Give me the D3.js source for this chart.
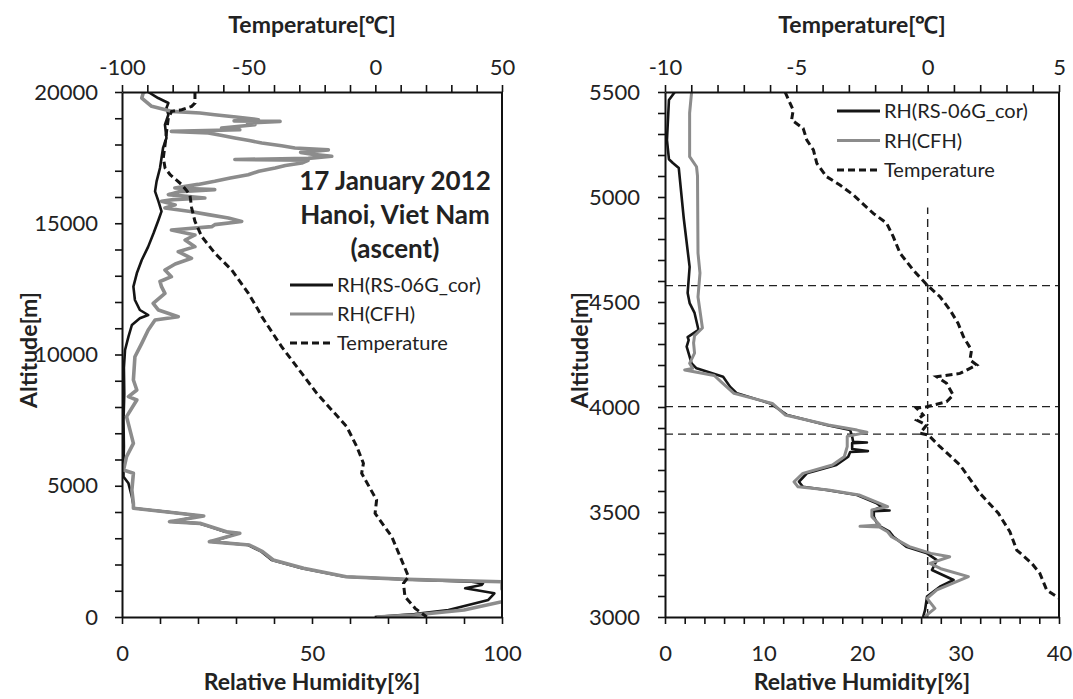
<!DOCTYPE html>
<html>
<head>
<meta charset="utf-8">
<script src="https://cdnjs.cloudflare.com/ajax/libs/d3/7.8.5/d3.min.js"></script>
<style>
body { margin: 0; background: #fff; }
svg { font-family: Lato, "Open Sans", sans-serif; }
</style>
</head>
<body>
<svg width="1073" height="699"></svg>
<script>
/***************************************************************************************************
two sounding profiles: full ascent (left) and a close up of 3000-5500 m (right)
rows are [altitude m, value]
***************************************************************************************************/

// ---- left panel: 0-20000 m
var leftRhRS = [
	[20000, 6.9], [19770, 9.5], [19580, 12.2], [19390, 11.7], [19135, 12.2], [18755, 11.3], [18248, 11.7],
	[17867, 10.8], [17486, 10.4], [17105, 10.0], [16597, 9.1], [16216, 8.7], [15835, 9.6], [15455, 10.4],
	[15124, 9.6], [14617, 8.3], [14109, 6.9], [13600, 5.2], [13093, 3.9], [12585, 3.0], [12076, 3.4],
	[11695, 4.7], [11505, 6.9], [11378, 4.7], [11124, 2.6], [10680, 1.7], [10171, 0.8], [9500, 0.5],
	[8500, 0.6], [7500, 0.4], [6500, 0.5], [5800, 0.4], [5346, 0.4], [5092, 1.7], [4584, 2.6], [4267, 3.0],
	[4140, 3.2], [4013, 11.3], [3848, 21.0], [3800, 19.0], [3632, 13.1], [3568, 20.1], [3450, 23.0],
	[3250, 27.1], [3187, 30.6], [2870, 23.6], [2743, 33.2], [2489, 36.7], [2171, 39.4], [1854, 47.3],
	[1535, 58.7], [1434, 74.4], [1345, 92.0], [1282, 95.0], [1219, 94.6], [1092, 90.3], [902, 98.0],
	[648, 96.4], [267, 85.9], [114, 77.0], [0, 66.5]
];
var leftRhCFH = [
	[20000, 6.0], [19960, 5.6], [19770, 5.2], [19453, 7.8], [19263, 13.0], [19200, 20.5], [19135, 24.4],
	[19050, 30.0], [18945, 35.9], [18900, 29.5], [18880, 41.6], [18820, 33.0], [18755, 35.0], [18628, 26.2],
	[18560, 31.0], [18500, 13.0], [18438, 22.7], [18350, 26.0], [18248, 29.7], [18150, 33.5], [18057, 36.8],
	[17950, 42.0], [17867, 45.5], [17794, 54.3], [17700, 47.0], [17613, 50.8], [17550, 55.2], [17470, 49.0],
	[17430, 29.7], [17400, 49.0], [17296, 47.3], [17200, 43.0], [17105, 40.3], [16980, 36.0], [16850, 33.2],
	[16720, 28.5], [16597, 24.4], [16480, 20.0], [16343, 13.9], [16280, 24.4], [16200, 15.0], [16090, 12.2],
	[15962, 21.8], [15900, 13.5], [15835, 10.4], [15700, 14.0], [15581, 11.3], [15450, 18.0], [15328, 22.7],
	[15200, 28.0], [15070, 31.5], [14947, 24.4], [14870, 23.6], [14743, 13.0], [14552, 19.2], [14362, 16.6],
	[14109, 19.2], [13918, 14.8], [13665, 18.3], [13450, 14.0], [13219, 11.3], [12966, 13.0], [12780, 10.0],
	[12585, 10.4], [12330, 11.3], [11950, 8.2], [11695, 9.6], [11440, 14.8], [11314, 8.7], [10933, 6.9],
	[10425, 5.2], [9916, 3.4], [9029, 3.0], [8648, 3.9], [8395, 1.7], [8267, 3.9], [7632, 1.2], [6616, 3.0],
	[6108, 1.2], [5600, 0.4], [5474, 3.0], [4838, 2.6], [4330, 3.0], [4140, 3.0], [3848, 21.5], [3632, 12.5],
	[3568, 20.5], [3250, 27.5], [3187, 31.0], [2870, 23.0], [2743, 33.5], [2489, 37.0], [2171, 39.8],
	[1854, 47.8], [1535, 59.0], [1434, 75.0], [1345, 100.0], [1060, 100.0], [900, 104.0], [584, 100.0],
	[267, 90.0], [76, 77.0], [0, 67.0]
];
var leftTemp = [
	[20000, -71.2], [19580, -71.2], [19453, -72.5], [19326, -76.4], [19263, -80.4], [19010, -81.7],
	[18500, -82.4], [17995, -83.0], [17486, -83.7], [17105, -83.0], [16850, -81.0], [16470, -76.4],
	[16090, -73.2], [15581, -72.5], [15070, -71.2], [14489, -68.5], [13855, -63.3], [13219, -56.7],
	[12330, -50.1], [11695, -46.2], [11440, -44.8], [10298, -37.0], [9790, -33.0], [8520, -23.1],
	[7250, -11.3], [6489, -7.3], [5855, -4.7], [5474, -5.4], [4457, 0.5], [3950, -0.1], [3060, 6.5],
	[1535, 13.1], [1282, 11.1], [775, 11.7], [330, 15.7], [0, 20.3]
];
var leftRhLabels = [0, 50, 100];
var leftTempLabels = [-100, -50, 0, 50];
var leftAltLabels = [0, 5000, 10000, 15000, 20000];
var leftNote = ['17 January 2012', 'Hanoi, Viet Nam', '(ascent)'];

// ---- right panel: 3000-5500 m
var rightRhRS = [
	[5500, 1.0], [5462, 0.4], [5271, 0.2], [5180, 0.4], [5162, 0.8], [5138, 1.4], [4900, 1.9], [4667, 2.5],
	[4543, 2.3], [4495, 2.5], [4448, 3.0], [4367, 3.4], [4333, 2.3], [4319, 2.4], [4287, 2.2], [4208, 2.7],
	[4184, 3.2], [4144, 5.9], [4097, 6.6], [4065, 7.3], [4017, 10.7], [3962, 12.4], [3914, 16.4],
	[3890, 18.8], [3859, 19.0], [3834, 19.1], [3831, 20.5], [3828, 19.0], [3800, 19.0], [3790, 20.6],
	[3786, 18.8], [3763, 18.6], [3724, 17.4], [3684, 14.4], [3644, 13.6], [3620, 14.0], [3605, 16.4],
	[3581, 19.5], [3541, 21.5], [3525, 22.0], [3510, 21.2], [3507, 22.8], [3504, 21.2], [3478, 21.2],
	[3438, 21.6], [3406, 22.8], [3382, 23.2], [3335, 24.5], [3303, 26.6], [3271, 27.6], [3224, 27.1],
	[3176, 29.3], [3144, 27.9], [3097, 26.6], [3033, 26.4], [3000, 26.2]
];
var rightRhCFH = [
	[5500, 2.7], [5400, 2.5], [5192, 2.5], [5144, 3.2], [5100, 3.3], [4733, 3.35], [4638, 3.55], [4524, 3.35],
	[4376, 3.8], [4340, 3.0], [4305, 2.9], [4257, 3.0], [4208, 2.5], [4184, 2.8], [4176, 2.0], [4150, 5.0],
	[4120, 5.7], [4065, 7.0], [4017, 10.9], [3962, 12.2], [3914, 16.6], [3890, 19.5], [3880, 20.5],
	[3860, 18.5], [3811, 18.5], [3763, 18.2], [3724, 17.0], [3684, 14.0], [3644, 13.1], [3620, 13.5],
	[3605, 16.6], [3581, 19.7], [3541, 21.8], [3525, 22.6], [3510, 21.0], [3478, 21.0], [3438, 21.8],
	[3432, 19.8], [3428, 21.8], [3406, 22.6], [3382, 23.0], [3335, 24.8], [3303, 27.0], [3287, 28.9],
	[3255, 26.9], [3230, 28.0], [3192, 30.8], [3162, 29.3], [3129, 27.6], [3089, 26.6], [3041, 27.4],
	[3010, 26.6], [3000, 26.4]
];
var rightTemp = [
	[5500, -5.43], [5414, -5.12], [5367, -5.18], [5327, -4.74], [5271, -4.6], [5224, -4.35], [5160, -4.22],
	[5097, -3.85], [5057, -3.34], [5010, -2.83], [4922, -2.07], [4875, -1.56], [4811, -1.31], [4732, -1.05],
	[4652, -0.55], [4578, 0.0], [4525, 0.47], [4462, 0.85], [4398, 1.16], [4335, 1.36], [4271, 1.67],
	[4224, 1.61], [4200, 1.87], [4160, 1.23], [4144, 0.34], [4113, 0.72], [4057, 0.97], [4025, 0.72],
	[4001, -0.04], [3994, -0.42], [3962, -0.17], [3938, -0.42], [3914, -0.04], [3875, -0.29], [3867, 0.02],
	[3811, 0.47], [3724, 1.23], [3589, 1.99], [3494, 2.69], [3406, 3.13], [3319, 3.39], [3256, 3.96],
	[3208, 4.27], [3129, 4.53], [3089, 5.0], [3000, 5.4]
];
var rightRhLabels = [0, 10, 20, 30, 40];
var rightTempLabels = [-10, -5, 0, 5];
var rightAltLabels = [3000, 3500, 4000, 4500, 5000, 5500];
// altitudes where T crosses 0 C, and the top of the 0 C guide
var freezeAlts = [4578, 4002, 3871];
var freezeTop = 4950;

var legendNames = ['RH(RS-06G_cor)', 'RH(CFH)', 'Temperature'];

(function () {

var svg = d3.select('svg');
var TOP = 92, BOTTOM = 617;
var BLACK = '#151515', GREY = '#8c8c8c';

function hasLabel(list, v) {
	return list.some(function (l) { return Math.abs(l - v) < 1e-6; });
}

function drawPanel(p) {
	var g = svg.append('g');
	var x = d3.scaleLinear().domain(p.rhDomain).range([p.x0, p.x1]);
	var xt = d3.scaleLinear().domain(p.tDomain).range([p.x0, p.x1]);
	var y = d3.scaleLinear().domain(p.altDomain).range([BOTTOM, TOP]);

	g.append('clipPath').attr('id', p.id).append('rect')
		.attr('x', p.x0).attr('y', TOP).attr('width', p.x1 - p.x0).attr('height', BOTTOM - TOP);

	var plot = g.append('g').attr('clip-path', 'url(#' + p.id + ')');

	// reference lines for 0 C (right panel only)
	if (p.guides) {
		plot.selectAll('.guide').data(freezeAlts).enter().append('line')
			.attr('x1', p.x0).attr('x2', p.x1)
			.attr('y1', function (d) { return y(d); }).attr('y2', function (d) { return y(d); })
			.attr('stroke', '#222').attr('stroke-width', 1.4).attr('stroke-dasharray', '8,5');
		plot.append('line')
			.attr('x1', xt(0)).attr('x2', xt(0)).attr('y1', y(p.altDomain[0])).attr('y2', y(freezeTop))
			.attr('stroke', '#222').attr('stroke-width', 1.4).attr('stroke-dasharray', '8,5');
	}

	var rhLine = d3.line().x(function (d) { return x(d[1]); }).y(function (d) { return y(d[0]); });
	var tLine = d3.line().x(function (d) { return xt(d[1]); }).y(function (d) { return y(d[0]); });

	plot.append('path').attr('d', rhLine(p.rs)).attr('fill', 'none')
		.attr('stroke', BLACK).attr('stroke-width', 2.6).attr('stroke-linejoin', 'round');
	plot.append('path').attr('d', rhLine(p.cfh)).attr('fill', 'none')
		.attr('stroke', GREY).attr('stroke-width', p.greyWidth).attr('stroke-linejoin', 'round');
	plot.append('path').attr('d', tLine(p.temp)).attr('fill', 'none')
		.attr('stroke', BLACK).attr('stroke-width', 3).attr('stroke-dasharray', '7,4');

	// axes
	var bottom = d3.axisBottom(x).tickValues(d3.range(p.rhDomain[0], p.rhDomain[1] + 1e-6, p.rhStep))
		.tickSize(7).tickSizeOuter(0).tickPadding(21)
		.tickFormat(function (d) { return hasLabel(p.rhLabels, d) ? d : ''; });
	var top = d3.axisTop(xt).tickValues(d3.range(p.tDomain[0], p.tDomain[1] + 1e-6, p.tStep))
		.tickSize(7).tickSizeOuter(0).tickPadding(10)
		.tickFormat(function (d) { return hasLabel(p.tLabels, d) ? d : ''; });
	var left = d3.axisLeft(y).tickValues(d3.range(p.altDomain[0], p.altDomain[1] + 1e-6, p.altStep))
		.tickSize(7).tickSizeOuter(0).tickPadding(p.leftPad)
		.tickFormat(function (d) { return hasLabel(p.altLabels, d) ? d : ''; });

	[
		[bottom, 'translate(0,' + BOTTOM + ')'],
		[top, 'translate(0,' + TOP + ')'],
		[left, 'translate(' + p.x0 + ',0)']
	].forEach(function (a) {
		var ax = g.append('g').attr('transform', a[1]).call(a[0]);
		ax.select('.domain').attr('stroke', '#111').attr('stroke-width', 2);
		ax.selectAll('.tick line').attr('stroke', '#111').attr('stroke-width', 1.6);
		ax.selectAll('text').attr('font-size', 22).attr('fill', '#222')
			.attr('font-family', 'Lato, "Open Sans", sans-serif');
	});
	g.append('line').attr('x1', p.x1).attr('x2', p.x1).attr('y1', TOP).attr('y2', BOTTOM)
		.attr('stroke', '#111').attr('stroke-width', 2);

	var cx = (p.x0 + p.x1) / 2;
	g.append('text').attr('x', cx).attr('y', 33).attr('text-anchor', 'middle')
		.attr('font-size', 23).attr('font-weight', 'bold').attr('fill', '#222').text('Temperature[℃]');
	g.append('text').attr('x', cx).attr('y', 690).attr('text-anchor', 'middle')
		.attr('font-size', 23).attr('font-weight', 'bold').attr('fill', '#222').text('Relative Humidity[%]');
	g.append('text').attr('transform', 'translate(' + p.yTitleX + ',350) rotate(-90)')
		.attr('text-anchor', 'middle').attr('font-size', 23).attr('font-weight', 'bold').attr('fill', '#222')
		.text('Altitude[m]');

	// legend
	var lg = g.selectAll('.lg').data(legendNames).enter().append('g')
		.attr('transform', function (d, i) { return 'translate(' + p.legX + ',' + (p.legY + i * p.legGap) + ')'; });
	lg.append('line').attr('x1', 0).attr('x2', 43).attr('y1', -7).attr('y2', -7)
		.attr('stroke', function (d, i) { return i === 1 ? GREY : BLACK; })
		.attr('stroke-width', 3)
		.attr('stroke-dasharray', function (d, i) { return i === 2 ? '7,4' : null; });
	lg.append('text').attr('x', 47).attr('y', 0).attr('font-size', 20).attr('fill', '#222')
		.text(function (d) { return d; });

	if (p.note) {
		g.selectAll('.note').data(p.note).enter().append('text')
			.attr('x', 395).attr('y', function (d, i) { return 190 + i * 34; })
			.attr('text-anchor', 'middle').attr('font-size', 26).attr('font-weight', 'bold').attr('fill', '#222')
			.text(function (d) { return d; });
	}
}

drawPanel({
	id: 'clipL', x0: 122, x1: 502,
	rhDomain: [0, 100], rhStep: 10, rhLabels: leftRhLabels,
	tDomain: [-100, 50], tStep: 10, tLabels: leftTempLabels,
	altDomain: [0, 20000], altStep: 1000, altLabels: leftAltLabels,
	rs: leftRhRS, cfh: leftRhCFH, temp: leftTemp, greyWidth: 3.6,
	leftPad: 17, yTitleX: 37,
	legX: 290, legY: 292, legGap: 29,
	note: leftNote
});

drawPanel({
	id: 'clipR', x0: 665, x1: 1059,
	rhDomain: [0, 40], rhStep: 2, rhLabels: rightRhLabels,
	tDomain: [-10, 5], tStep: 1, tLabels: rightTempLabels,
	altDomain: [3000, 5500], altStep: 100, altLabels: rightAltLabels,
	rs: rightRhRS, cfh: rightRhCFH, temp: rightTemp, greyWidth: 3,
	leftPad: 18, yTitleX: 588,
	legX: 837, legY: 118, legGap: 29.5,
	guides: true
});

})();
</script>
</body>
</html>
